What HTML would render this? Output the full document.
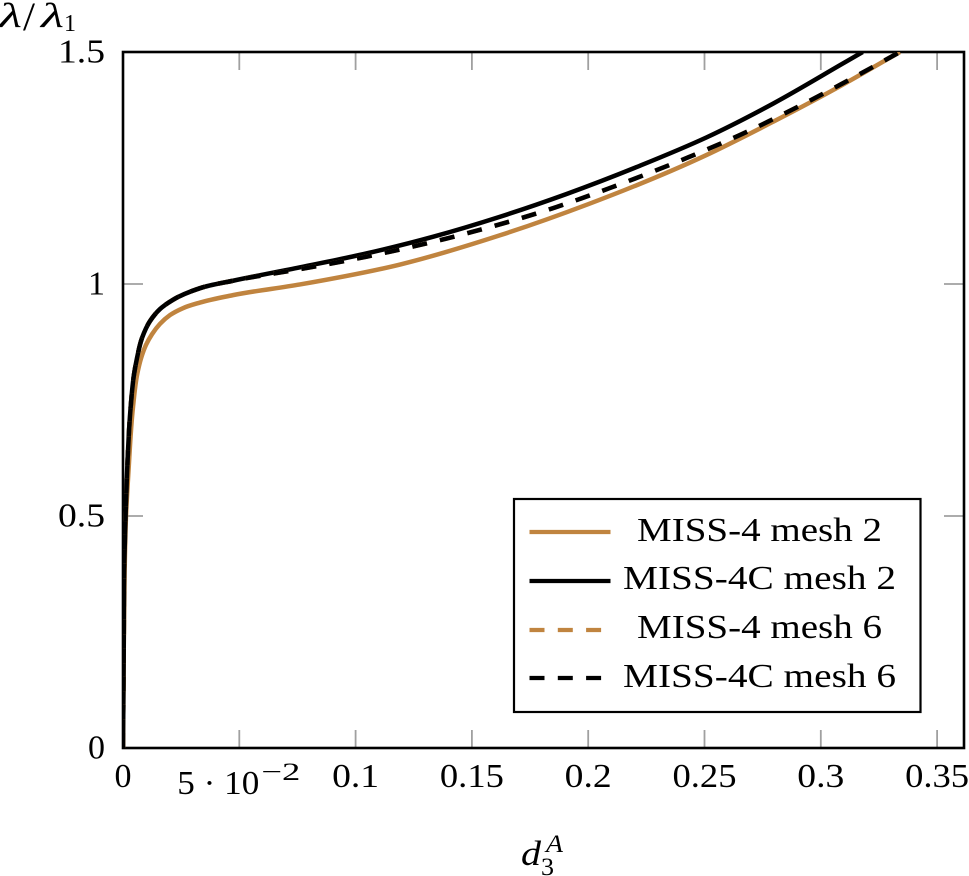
<!DOCTYPE html>
<html lang="en">
<head>
<meta charset="utf-8">
<title>Load-displacement chart</title>
<style>
html,body{margin:0;padding:0;background:#fff;width:969px;height:876px;overflow:hidden}
svg{display:block;font-family:"Liberation Serif",serif;fill:#000}
text{fill:#000}
</style>
</head>
<body>
<svg id="chart" width="969" height="876" viewBox="0 0 969 876" xmlns="http://www.w3.org/2000/svg">
  <defs><clipPath id="plot-clip"><rect x="123" y="52" width="841" height="696"/></clipPath></defs>
  <rect x="0" y="0" width="969" height="876" fill="#fff"/>
  <g id="ticks"></g>
  <rect x="123" y="52" width="841" height="696" fill="none" stroke="#000" stroke-width="2.6"/>
  <g id="series" clip-path="url(#plot-clip)"></g>
  <g id="tick-labels"></g>

  <g>
    <text x="-1" y="27" font-size="35" font-style="italic" textLength="23" lengthAdjust="spacingAndGlyphs">λ</text>
    <text x="23" y="30" font-size="40" textLength="12" lengthAdjust="spacingAndGlyphs">/</text>
    <text x="41" y="27" font-size="35" font-style="italic" textLength="23" lengthAdjust="spacingAndGlyphs">λ</text>
    <text x="64" y="31" font-size="24" textLength="12" lengthAdjust="spacingAndGlyphs">1</text>
  </g>
  <g>
    <text x="521" y="865" font-size="35" font-style="italic" textLength="20" lengthAdjust="spacingAndGlyphs">d</text>
    <text x="541" y="875" font-size="25" textLength="13" lengthAdjust="spacingAndGlyphs">3</text>
    <text x="546" y="852" font-size="25" font-style="italic" textLength="17" lengthAdjust="spacingAndGlyphs">A</text>
  </g>

  <g>
    <rect x="514" y="499" width="406.500" height="213" fill="#fff" stroke="#000" stroke-width="2.2"/>
    <g>
      <line x1="529.500" x2="610.500" y1="532" y2="532" stroke="#c0843f" stroke-width="4.200"/>
      <text x="637" y="541" font-size="34" textLength="245" lengthAdjust="spacingAndGlyphs">MISS-4 mesh 2</text>
    </g>
    <g>
      <line x1="529.500" x2="610.500" y1="581" y2="581" stroke="#000" stroke-width="4.200"/>
      <text x="623" y="589" font-size="34" textLength="273" lengthAdjust="spacingAndGlyphs">MISS-4C mesh 2</text>
    </g>
    <g>
      <line x1="529.500" x2="610.500" y1="630" y2="630" stroke="#c0843f" stroke-width="4.200" stroke-dasharray="15 13.300"/>
      <text x="637" y="638" font-size="34" textLength="245" lengthAdjust="spacingAndGlyphs">MISS-4 mesh 6</text>
    </g>
    <g>
      <line x1="529.500" x2="610.500" y1="678" y2="678" stroke="#000" stroke-width="4.200" stroke-dasharray="15 13.300"/>
      <text x="623" y="687" font-size="34" textLength="273" lengthAdjust="spacingAndGlyphs">MISS-4C mesh 6</text>
    </g>
  </g>
</svg>
<script>
const xTickValues = [0, 0.05, 0.1, 0.15, 0.2, 0.25, 0.3, 0.35];
const xTickLabels = ["0", "5e-2", "0.1", "0.15", "0.2", "0.25", "0.3", "0.35"];
const yTickValues = [0, 0.5, 1, 1.5];
const yTickLabels = ["0", "0.5", "1", "1.5"];

const miss4Mesh2D = [0, 0.0003, 0.0007, 0.0013, 0.0024, 0.0043, 0.0062, 0.0077, 0.0099, 0.0125, 0.0159, 0.0202, 0.0258, 0.0331, 0.0473, 0.0761, 0.1191, 0.1621, 0.2, 0.25, 0.2796, 0.3089, 0.334];
const miss4Mesh2V = [0, 0.2, 0.38, 0.5, 0.6, 0.735, 0.808, 0.839, 0.869, 0.892, 0.914, 0.933, 0.948, 0.96, 0.976, 0.999, 1.042, 1.105, 1.172, 1.276, 1.35, 1.428, 1.5];

const miss4cMesh2D = [0, 0.0003, 0.0006, 0.0011, 0.0018, 0.0033, 0.0047, 0.006, 0.0082, 0.0116, 0.0159, 0.0215, 0.0331, 0.0473, 0.0761, 0.1048, 0.1334, 0.1621, 0.1907, 0.2223, 0.2509, 0.2796, 0.3084, 0.318];
const miss4cMesh2V = [0, 0.2, 0.405, 0.5, 0.6, 0.735, 0.804, 0.84, 0.884, 0.92, 0.946, 0.966, 0.991, 1.007, 1.036, 1.066, 1.102, 1.145, 1.194, 1.255, 1.316, 1.389, 1.472, 1.5];

const miss4Mesh6D = [0, 0.0003, 0.0006, 0.0011, 0.0018, 0.0033, 0.0047, 0.006, 0.0082, 0.0116, 0.0159, 0.0215, 0.0331, 0.0473, 0.0761, 0.1048, 0.1391, 0.1864, 0.2094, 0.243, 0.2652, 0.2874, 0.3089, 0.3304, 0.334];
const miss4Mesh6V = [0, 0.2, 0.405, 0.5, 0.6, 0.735, 0.804, 0.84, 0.884, 0.92, 0.946, 0.966, 0.991, 1.007, 1.032, 1.059, 1.098, 1.166, 1.207, 1.273, 1.321, 1.375, 1.431, 1.49, 1.5];

const miss4cMesh6D = [0, 0.0003, 0.0006, 0.0011, 0.0018, 0.0033, 0.0047, 0.006, 0.0082, 0.0116, 0.0159, 0.0215, 0.0331, 0.0473, 0.0761, 0.1048, 0.1391, 0.1864, 0.2094, 0.243, 0.2652, 0.2874, 0.3089, 0.3304, 0.334];
const miss4cMesh6V = [0, 0.2, 0.405, 0.5, 0.6, 0.735, 0.804, 0.84, 0.884, 0.92, 0.946, 0.966, 0.991, 1.007, 1.032, 1.059, 1.098, 1.166, 1.207, 1.273, 1.321, 1.375, 1.431, 1.49, 1.5];

const NS = "http://www.w3.org/2000/svg";
function xScale(d) { return 123 + d * 2326; }
function yScale(v) { return 748 - v * 464; }

function smoothPath(ds, vs) {
  const p = ds.map((d, i) => [xScale(d), yScale(vs[i])]);
  const tangent = p.map((pt, i) => {
    if (i === 0 || i === p.length - 1) {
      const a0 = p[Math.max(i - 1, 0)], b0 = p[Math.min(i + 1, p.length - 1)];
      const l0 = Math.hypot(b0[0] - a0[0], b0[1] - a0[1]) || 1;
      return [(b0[0] - a0[0]) / l0, (b0[1] - a0[1]) / l0];
    }
    const a = p[i - 1], b = p[i + 1];
    const la = Math.hypot(pt[0] - a[0], pt[1] - a[1]) || 1;
    const lb = Math.hypot(b[0] - pt[0], b[1] - pt[1]) || 1;
    const tx = (pt[0] - a[0]) / la * lb + (b[0] - pt[0]) / lb * la;
    const ty = (pt[1] - a[1]) / la * lb + (b[1] - pt[1]) / lb * la;
    const len = Math.hypot(tx, ty) || 1;
    return [tx / len, ty / len];
  });
  let out = "M" + p[0][0].toFixed(2) + " " + p[0][1].toFixed(2);
  for (let i = 1; i < p.length; i++) {
    const s = Math.hypot(p[i][0] - p[i - 1][0], p[i][1] - p[i - 1][1]) / 3;
    out += " C" + (p[i - 1][0] + tangent[i - 1][0] * s).toFixed(2) + " " + (p[i - 1][1] + tangent[i - 1][1] * s).toFixed(2) +
      " " + (p[i][0] - tangent[i][0] * s).toFixed(2) + " " + (p[i][1] - tangent[i][1] * s).toFixed(2) +
      " " + p[i][0].toFixed(2) + " " + p[i][1].toFixed(2);
  }
  return out;
}

function labelWidth(s) {
  let w = 0;
  for (const c of s) { w += c === "." ? 13 : 17; }
  return w;
}

const tickGroup = document.getElementById("ticks");
const labelGroup = document.getElementById("tick-labels");
const seriesGroup = document.getElementById("series");

function addTick(x1, y1, x2, y2, name) {
  const t = document.createElementNS(NS, "line");
  t.setAttribute("x1", x1);
  t.setAttribute("y1", y1);
  t.setAttribute("x2", x2);
  t.setAttribute("y2", y2);
  t.setAttribute("stroke", "#a0a0a0");
  t.setAttribute("stroke-width", "1.8");
  
  
  tickGroup.appendChild(t);
}

function addLabel(str, x, y, anchor, size, width, name) {
  const t = document.createElementNS(NS, "text");
  t.textContent = str;
  t.setAttribute("x", x);
  t.setAttribute("y", y);
  t.setAttribute("text-anchor", anchor);
  t.setAttribute("font-size", size);
  t.setAttribute("textLength", width);
  t.setAttribute("lengthAdjust", "spacingAndGlyphs");
  
  
  labelGroup.appendChild(t);
}

xTickValues.forEach((val, i) => {
  const px = xScale(val);
  addTick(px, 748, px, 730, "x-tick-bottom");
  addTick(px, 52, px, 70, "x-tick-top");
  const lab = xTickLabels[i];
  if (lab.indexOf("e") > -1) {
    const parts = lab.split("e");
    addLabel(parts[0] + " · 10", px - 62, 794, "start", 34, 82, "x-tick-label");
    addLabel(parts[1].replace("-", "−"), px + 22, 780, "start", 25, 39, "x-tick-label-exponent");
  } else {
    addLabel(lab, px, 787, "middle", 34, labelWidth(lab), "x-tick-label");
  }
});

yTickValues.forEach((val, i) => {
  const py = yScale(val);
  addTick(123, py, 143, py, "y-tick-left");
  addTick(964, py, 944, py, "y-tick-right");
  const lab = yTickLabels[i];
  addLabel(lab, 105, py + 10.5, "end", 34, labelWidth(lab), "y-tick-label");
});

function addSeries(ds, vs, color, dashed, name) {
  const path = document.createElementNS(NS, "path");
  path.setAttribute("d", smoothPath(ds, vs));
  path.setAttribute("fill", "none");
  path.setAttribute("stroke", color);
  path.setAttribute("stroke-width", "4.5");
  path.setAttribute("stroke-linejoin", "round");
  if (dashed) {
    path.setAttribute("stroke-dasharray", "15 13.3");
  }
  
  
  seriesGroup.appendChild(path);
}

addSeries(miss4Mesh2D, miss4Mesh2V, "#c0843f", false, "series-miss-4-mesh-2");
addSeries(miss4cMesh2D, miss4cMesh2V, "#000", false, "series-miss-4c-mesh-2");
addSeries(miss4Mesh6D, miss4Mesh6V, "#c0843f", true, "series-miss-4-mesh-6");
addSeries(miss4cMesh6D, miss4cMesh6V, "#000", true, "series-miss-4c-mesh-6");
</script>
</body>
</html>
